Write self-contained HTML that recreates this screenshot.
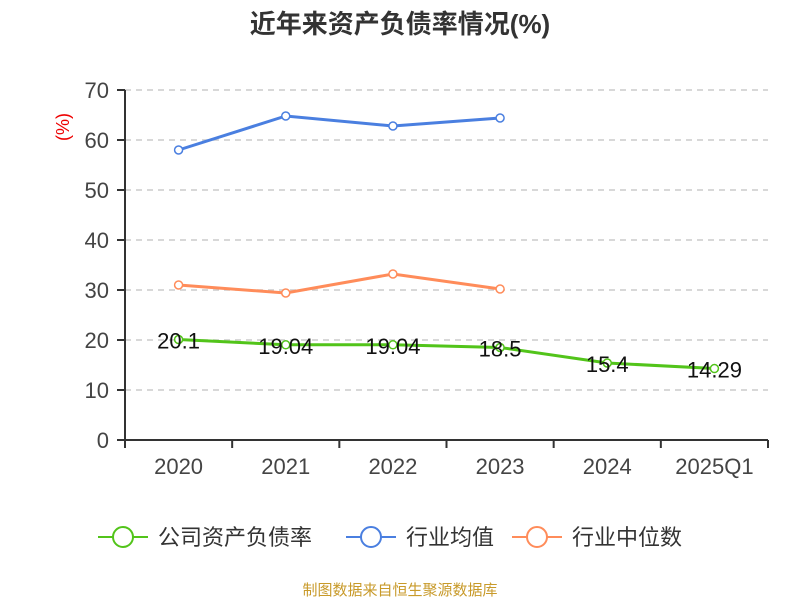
<!DOCTYPE html>
<html><head><meta charset="utf-8"><style>
body{margin:0;background:#fff;font-family:"Liberation Sans","Noto Sans CJK SC",sans-serif}
</style></head><body>
<svg id="c" width="800" height="600" xmlns="http://www.w3.org/2000/svg">
<text x="400" y="33" text-anchor="middle" font-size="26" font-weight="bold" fill="#333" font-family="Liberation Sans,Noto Sans CJK SC,sans-serif">近年来资产负债率情况(%)</text>
<text transform="translate(69,127) rotate(-90)" text-anchor="middle" font-size="18" fill="#e00" font-family="Liberation Sans,sans-serif">(%)</text>
<g id="grid"></g><g id="series"></g>
<text x="400" y="595" text-anchor="middle" font-size="15" fill="#c89a2a" font-family="Liberation Sans,Noto Sans CJK SC,sans-serif">制图数据来自恒生聚源数据库</text>
</svg>
<script>
const categories=["2020","2021","2022","2023","2024","2025Q1"];
const yTicks=[0,10,20,30,40,50,60,70];
const companyValues=[20.1,19.04,19.04,18.5,15.4,14.29];
const companyLabels=["20.1","19.04","19.04","18.5","15.4","14.29"];
const industryAvg=[58,64.8,62.8,64.4];
const industryMedian=[31,29.4,33.2,30.2];
const seriesNames=["公司资产负债率","行业均值","行业中位数"];
const NS="http://www.w3.org/2000/svg";
const X0=125,X1=768,Y0=440,Y1=90,YMAX=70;
const bw=(X1-X0)/categories.length;
const x=i=>X0+bw*(i+0.5);
const y=v=>Y0-(v/YMAX)*(Y0-Y1);
function mk(t,a,p){const e=document.createElementNS(NS,t);for(const k in a)e.setAttribute(k,a[k]);p.appendChild(e);return e;}
const g=document.getElementById('grid'),s=document.getElementById('series');
yTicks.forEach(v=>{
 if(v>0){const l=mk('line',{x1:X0,x2:X1,y1:y(v),y2:y(v),stroke:'#ccc','stroke-dasharray':'6,5','stroke-width':1.5},g);
 
 }
 const tk=mk('line',{x1:X0-8,x2:X0,y1:y(v),y2:y(v),stroke:'#333','stroke-width':2},g);
 
 
 const t=mk('text',{x:X0-16,y:y(v)+8,'text-anchor':'end','font-size':22,fill:'#444'},g);t.textContent=v;
 
 
});
const ya=mk('line',{x1:X0,x2:X0,y1:Y1,y2:Y0,stroke:'#333','stroke-width':2},g);


const xa=mk('line',{x1:X0,x2:X1,y1:Y0,y2:Y0,stroke:'#333','stroke-width':2},g);


for(let i=0;i<=categories.length;i++){const tk=mk('line',{x1:X0+bw*i,x2:X0+bw*i,y1:Y0,y2:Y0+8,stroke:'#333','stroke-width':2},g);
 
 }
categories.forEach((c,i)=>{const t=mk('text',{x:x(i),y:474,'text-anchor':'middle','font-size':22,fill:'#444'},g);t.textContent=c;
 
 });
function series(vals,color,name){
 const p=mk('polyline',{points:vals.map((v,i)=>x(i)+','+y(v)).join(' '),fill:'none',stroke:color,'stroke-width':3},s);
 
 
 vals.forEach((v,i)=>{const c=mk('circle',{cx:x(i),cy:y(v),r:4,fill:'#fff',stroke:color,'stroke-width':1.5},s);
 
 });
}
series(industryAvg,'#4a7fe0','industry-avg');
series(industryMedian,'#ff8c5a','industry-median');
series(companyValues,'#52c41a','company');
companyValues.forEach((v,i)=>{const t=mk('text',{x:x(i),y:y(v)+9,'text-anchor':'middle','font-size':22,fill:'#111'},s);t.textContent=companyLabels[i];
 
 });
const colors=['#52c41a','#4a7fe0','#ff8c5a'],lx=[98,346,512];
seriesNames.forEach((n,i)=>{
 const lg=mk('g',{},s);
 
 
 mk('line',{x1:lx[i],x2:lx[i]+50,y1:537,y2:537,stroke:colors[i],'stroke-width':2},lg);
 mk('circle',{cx:lx[i]+25,cy:537,r:10,fill:'#fff',stroke:colors[i],'stroke-width':2},lg);
 const t=mk('text',{x:lx[i]+60,y:545,'font-size':22,fill:'#333'},lg);t.textContent=n;
});
</script>
</body></html>
